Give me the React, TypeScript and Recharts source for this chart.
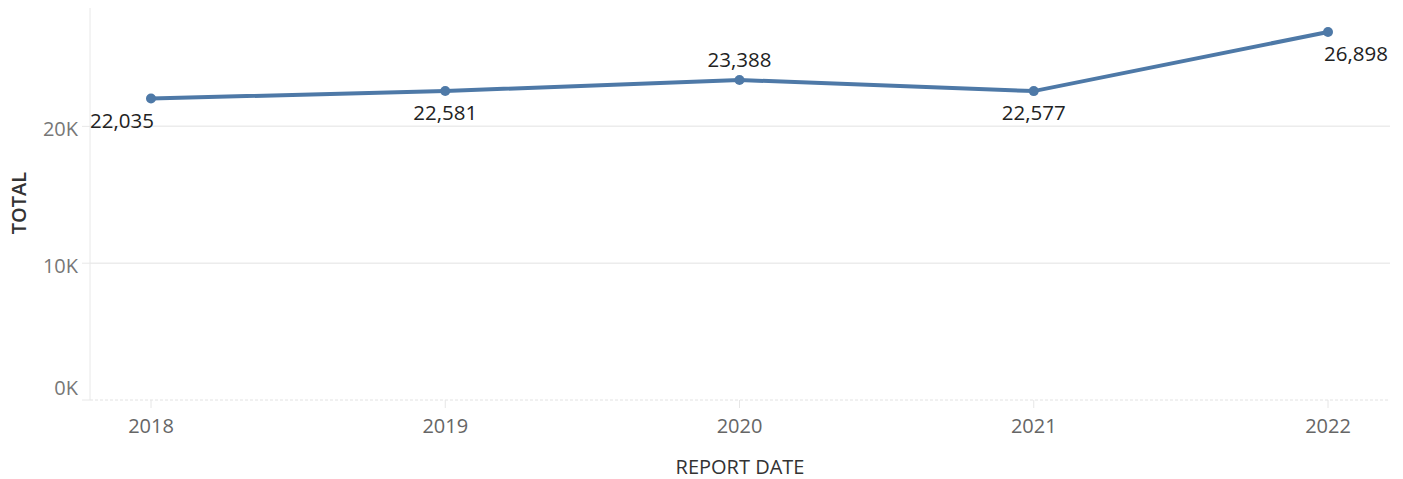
import { LineChart, Line, XAxis, YAxis, CartesianGrid, LabelList, Label } from "recharts";

const years = ["2018", "2019", "2020", "2021", "2022"];
const totals = [22035, 22581, 23388, 22577, 26898];
const yTicks = [0, 10000, 20000];

const data = years.map((year, i) => ({ year, total: totals[i] }));

const FONT = "'Open Sans', sans-serif";
const LINE_COLOR = "#4e79a7";

const fmtK = (v: number) => `${Math.round(v / 1000)}K`;

function PointLabel(props: any) {
  const { x, y, value, index } = props;
  const above = index === 2;
  let anchor: "start" | "middle" | "end" = "middle";
  let tx = x;
  if (index === 0) {
    anchor = "start";
    tx = x - 61;
  } else if (index === totals.length - 1) {
    anchor = "end";
    tx = x + 60;
  }
  return (
    <text
      x={tx}
      y={above ? y - 21 : y + 21}
      textAnchor={anchor}
      dominantBaseline="central"
      fontFamily={FONT}
      fontSize={20.5}
      fill="#222"
    >
      {Number(value).toLocaleString("en-US")}
    </text>
  );
}

function YTick(props: any) {
  const { x, y, payload } = props;
  // bottom label sits above the baseline, like the original
  const dy = payload.value === 0 ? -13 : 2;
  return (
    <text
      x={x}
      y={y + dy}
      textAnchor="end"
      dominantBaseline="central"
      fontFamily={FONT}
      fontSize={20}
      fill="#777"
    >
      {fmtK(payload.value)}
    </text>
  );
}

export default function App() {
  return (
    <div style={{ position: "absolute", left: 0, top: 0, background: "#fff" }}>
      <LineChart
        width={1403}
        height={479}
        data={data}
        margin={{ top: 8, right: 13, bottom: 0, left: 0 }}
      >
        <CartesianGrid
          vertical={false}
          horizontalValues={[10000, 20000]}
          stroke="#ececec"
          strokeWidth={1.5}
        />
        <XAxis
          dataKey="year"
          padding={{ left: 61, right: 62 }}
          height={79}
          axisLine={{ stroke: "#e2e2e2", strokeDasharray: "3 2" }}
          tickLine={{ stroke: "#e6e6e6" }}
          tickSize={8}
          tickMargin={11}
          tick={{ fontFamily: FONT, fontSize: 20, fill: "#666" }}
        >
          <Label
            content={() => (
              <text
                x={740}
                y={466}
                textAnchor="middle"
                dominantBaseline="central"
                fontFamily={FONT}
                fontSize={20}
                fill="#333"
              >
                REPORT DATE
              </text>
            )}
          />
        </XAxis>
        <YAxis
          width={90}
          domain={[0, 28650]}
          ticks={yTicks}
          axisLine={{ stroke: "#e8e8e8" }}
          tickLine={{ stroke: "#e8e8e8" }}
          tickSize={8}
          tickMargin={4}
          tick={<YTick />}
        >
          <Label
            content={() => (
              <text
                x={18}
                y={203}
                transform="rotate(-90 18 203)"
                textAnchor="middle"
                dominantBaseline="central"
                fontFamily={FONT}
                fontSize={20}
                fontWeight={600}
                fill="#333"
              >
                TOTAL
              </text>
            )}
          />
        </YAxis>
        <Line
          type="linear"
          dataKey="total"
          stroke={LINE_COLOR}
          strokeWidth={4}
          dot={{ r: 5, fill: LINE_COLOR, stroke: LINE_COLOR, strokeWidth: 0 }}
          activeDot={false}
          isAnimationActive={false}
        >
          <LabelList dataKey="total" content={<PointLabel />} />
        </Line>
      </LineChart>
    </div>
  );
}
